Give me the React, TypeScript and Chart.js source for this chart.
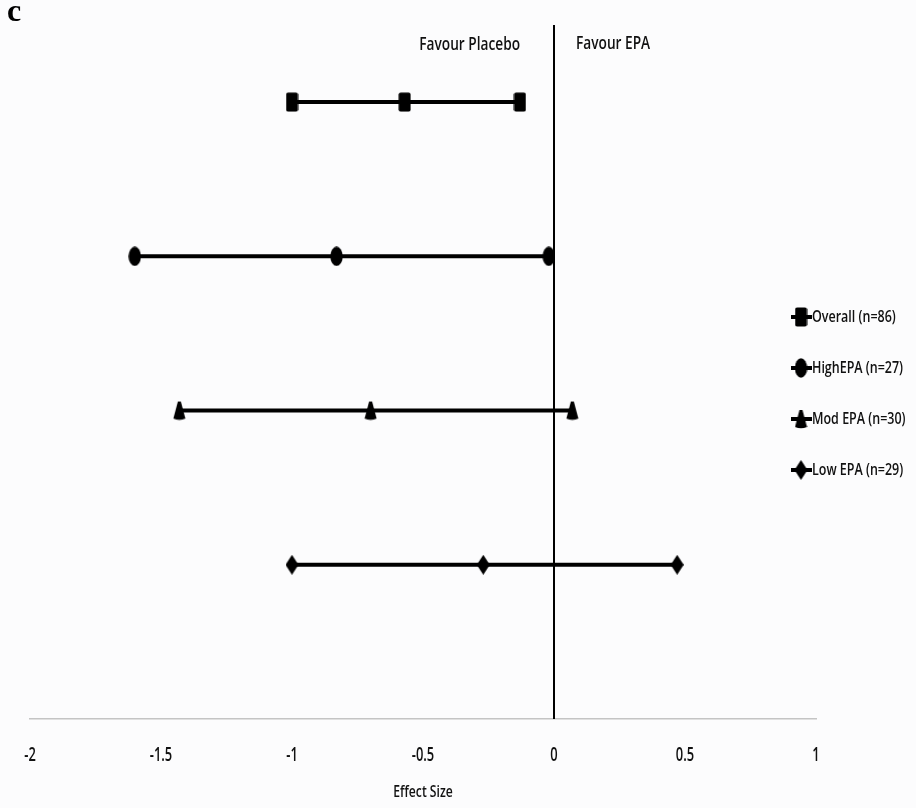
import React, { useEffect, useRef } from "react";
import { Chart, registerables } from "chart.js";

Chart.register(...registerables);

const groups = ["Overall (n=86)", "HighEPA (n=27)", "Mod EPA (n=30)", "Low EPA (n=29)"];
const shapes = ["square", "circle", "triangle", "diamond"];
const rowPos = [4, 3, 2, 1];
const lower = [-1.0, -1.6, -1.43, -1.0];
const estimate = [-0.57, -0.83, -0.7, -0.27];
const upper = [-0.13, -0.02, 0.07, 0.47];
const xTicks = [-2, -1.5, -1, -0.5, 0, 0.5, 1];
const sideLabels = ["Favour Placebo", "Favour EPA"];
const axisTitle = "Effect Size";
const panelLetter = "c";

const FONT = "'Open Sans', 'DejaVu Sans', sans-serif";
const INK = "#111111";

function makeMarker(shape: string): HTMLCanvasElement {
  const w = 13, h = 20;
  const c = document.createElement("canvas");
  c.width = w;
  c.height = h;
  const g = c.getContext("2d")!;
  g.fillStyle = "#000";
  g.beginPath();
  if (shape === "square") {
    g.roundRect(0.5, 0.5, w - 1, h - 1, 2);
  } else if (shape === "circle") {
    g.ellipse(w / 2, h / 2, w / 2 - 0.3, h / 2 - 0.3, 0, 0, Math.PI * 2);
  } else if (shape === "triangle") {
    g.moveTo(w / 2 - 1.5, 1);
    g.lineTo(w / 2 + 1.5, 1);
    g.lineTo(w - 0.5, h - 2);
    g.quadraticCurveTo(w / 2, h + 0.5, 0.5, h - 2);
    g.closePath();
  } else {
    g.moveTo(w / 2, 0);
    g.lineTo(w, h / 2);
    g.lineTo(w / 2, h);
    g.lineTo(0, h / 2);
    g.closePath();
  }
  g.fill();
  return c;
}

function narrowText(ctx: any, text: string, x: number, y: number, size: number, align: string, squeeze: number) {
  ctx.save();
  ctx.font = "600 " + size + "px " + FONT;
  ctx.textBaseline = "middle";
  ctx.textAlign = align;
  ctx.translate(x, y);
  ctx.scale(squeeze, 1);
  ctx.fillText(text, 0, 0);
  ctx.restore();
}

export default function App() {
  const ref = useRef<HTMLCanvasElement | null>(null);
  useEffect(() => {
    if (!ref.current) return;
    const markers = shapes.map(makeMarker);
    const datasets: any[] = groups.map((name, i) => ({
      label: name,
      data: [
        { x: lower[i], y: rowPos[i] },
        { x: estimate[i], y: rowPos[i] },
        { x: upper[i], y: rowPos[i] },
      ],
      showLine: true,
      borderColor: "#000",
      backgroundColor: "#000",
      borderWidth: 4,
      pointStyle: markers[i],
      pointRadius: 8,
      clip: false,
    }));
    datasets.push({
      label: "zero",
      data: [
        { x: 0, y: 0 },
        { x: 0, y: 4.5 },
      ],
      showLine: true,
      borderColor: "#000",
      borderWidth: 2,
      pointRadius: 0,
    });

    const overlay = {
      id: "overlay",
      afterDraw(chart: any) {
        const ctx = chart.ctx;
        const xs = chart.scales.x;
        const area = chart.chartArea;
        ctx.save();
        // panel letter
        ctx.fillStyle = "#000";
        ctx.font = "bold 32px 'Liberation Serif', 'DejaVu Serif', serif";
        ctx.textAlign = "left";
        ctx.textBaseline = "alphabetic";
        ctx.fillText(panelLetter, 7, 21);
        ctx.fillStyle = INK;
        // tick labels
        xs.ticks.forEach((t: any) => {
          narrowText(ctx, String(t.value), xs.getPixelForValue(t.value), area.bottom + 37, 19, "center", 0.68);
        });
        // axis title
        narrowText(ctx, axisTitle, (area.left + area.right) / 2, area.bottom + 73, 16, "center", 0.76);
        // favour labels
        const zx = xs.getPixelForValue(0);
        narrowText(ctx, sideLabels[0], zx - 34, 45, 18, "right", 0.76);
        narrowText(ctx, sideLabels[1], zx + 22, 44, 18, "left", 0.76);
        // legend
        const legY = [317, 368, 419, 470];
        groups.forEach((name, i) => {
          const y = legY[i];
          ctx.strokeStyle = "#000";
          ctx.lineWidth = 4;
          ctx.beginPath();
          ctx.moveTo(791, y);
          ctx.lineTo(812, y);
          ctx.stroke();
          const m = markers[i];
          ctx.drawImage(m, 801 - m.width / 2, y - m.height / 2);
          narrowText(ctx, name, 812, y, 16, "left", 0.78);
        });
        ctx.restore();
      },
    };

    const bg = {
      id: "bg",
      beforeDraw(chart: any) {
        const ctx = chart.ctx;
        ctx.save();
        ctx.fillStyle = "#fcfcfd";
        ctx.fillRect(0, 0, chart.width, chart.height);
        ctx.restore();
      },
    };

    const chart = new Chart(ref.current, {
      type: "scatter",
      data: { datasets },
      options: {
        responsive: false,
        animation: false,
        layout: { padding: { left: 30, right: 100, top: 25, bottom: 89 } },
        plugins: {
          legend: { display: false },
          tooltip: { enabled: false },
        },
        scales: {
          x: {
            type: "linear",
            min: -2,
            max: 1,
            afterBuildTicks(scale: any) {
              scale.ticks = xTicks.map((v) => ({ value: v }));
            },
            grid: { display: false, drawTicks: false },
            border: { display: true, color: "#c4c4c4", width: 1.5 },
            ticks: { display: false },
            title: { display: false },
          },
          y: {
            type: "linear",
            display: false,
            min: 0,
            max: 4.5,
          },
        },
      },
      plugins: [bg, overlay],
    });
    return () => chart.destroy();
  }, []);
  return (
    <div style={{ position: "absolute", left: 0, top: 0, width: 916, height: 808 }}>
      <canvas ref={ref} width={916} height={808} style={{ width: 916, height: 808, display: "block" }} />
    </div>
  );
}
